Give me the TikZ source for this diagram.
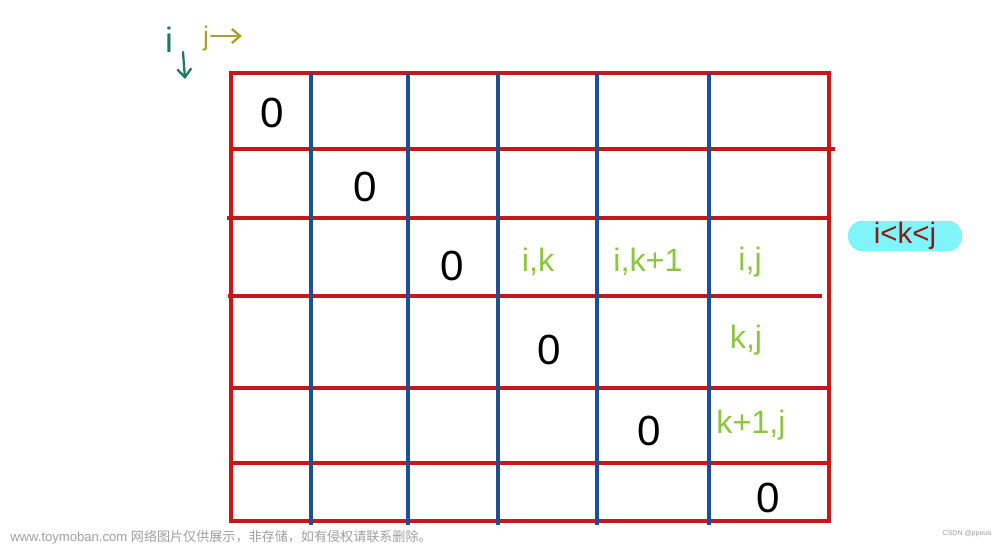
\documentclass[tikz,border=0pt]{standalone}
\usepackage{fontspec}
\setmainfont{Liberation Sans}
\newfontfamily\cjk{Noto Sans CJK SC}
\usetikzlibrary{arrows.meta,positioning}
\definecolor{gridred}{HTML}{C8161D}
\definecolor{gridblue}{HTML}{1F4E96}
\definecolor{cellgreen}{HTML}{8CC63F}
\definecolor{idark}{HTML}{1E7A5A}
\definecolor{jolive}{HTML}{A8A030}
\definecolor{boxcyan}{HTML}{7FF5FA}
\definecolor{boxtext}{HTML}{8B1A1A}
\definecolor{markgray}{HTML}{A0A0A0}
\tikzset{
    redline/.style={draw=gridred, line width=2.8pt},
    blueline/.style={draw=gridblue, line width=3.4pt},
    zero/.style={font=\fontsize{30}{30}\selectfont, inner sep=0pt},
    cell/.style={text=cellgreen, font=\fontsize{23}{23}\selectfont, inner sep=0pt},
    dirarrow/.style={-{Straight Barb[length=6pt,width=10pt]}, line width=1.6pt, line cap=round}
}
\begin{document}
\begin{tikzpicture}[x=0.025cm,y=-0.025cm]
        \useasboundingbox[fill=white] (0,0) rectangle (1000,545);

        % rows of the table
        \draw[redline] (231,73) rectangle (829,521);
        \draw[redline] (231,149) -- (835,149);
        \draw[redline] (227,218) -- (829,218);
        \draw[redline] (228,296) -- (822,296);
        \foreach \y in {388,463}
            {
                \draw[redline] (231,\y) -- (829,\y);
            }

        % columns of the table
        \foreach \x in {311,408,498,597,709}
            {
                \draw[blueline] (\x,73) -- (\x,525);
            }

        % diagonal
        \foreach \x/\y [count=\n] in {272/113,365/187,452/266,549/350,649/431,768/498}
            {
                \node[zero] (zero\n) at (\x,\y) {0};
            }

        % cells used in the step
        \node[cell] (ik) at (538,262) {i,k};
        \node[cell] (ikone) at (648,262) {i,k+1};
        \node[cell] (ij) at (750,262) {i,j};
        \node[cell] (kj) at (746,340) {k,j};
        \node[cell] (konej) at (751,425) {k+1,j};

        % directions
        \node[text=idark, font=\fontsize{25}{25}\selectfont, inner sep=0pt] (idir) at (169,40) {i};
        \coordinate (idown) at (185,79);
        \draw[dirarrow, draw=idark] (183,52) -- (idown);
        \node[text=jolive, font=\fontsize{19}{19}\selectfont, inner sep=0pt] (jdir) at (206,39) {j};
        \coordinate (jright) at (242,36);
        \draw[dirarrow, draw=jolive] (jdir.east) ++(2,-3) -- (jright);

        % range of k
        \node[fill=boxcyan, rounded corners=10pt, minimum width=81pt, minimum height=20pt, text=boxtext,
              font=\fontsize{21}{21}\selectfont, inner sep=1pt] (krange) at (905,236) {i<k<j};

        % watermarks
        \node[text=markgray, font=\fontsize{9.3}{9.3}\selectfont, anchor=west, inner sep=0pt] (site) at (10,537)
            {www.toymoban.com {\cjk 网络图片仅供展示，非存储，如有侵权请联系删除。}};
        \node[text=markgray, font=\fontsize{5}{5}\selectfont, inner sep=0pt] (csdn) at (967,534) {CSDN @ppeua};
    \end{tikzpicture}
\end{document}
